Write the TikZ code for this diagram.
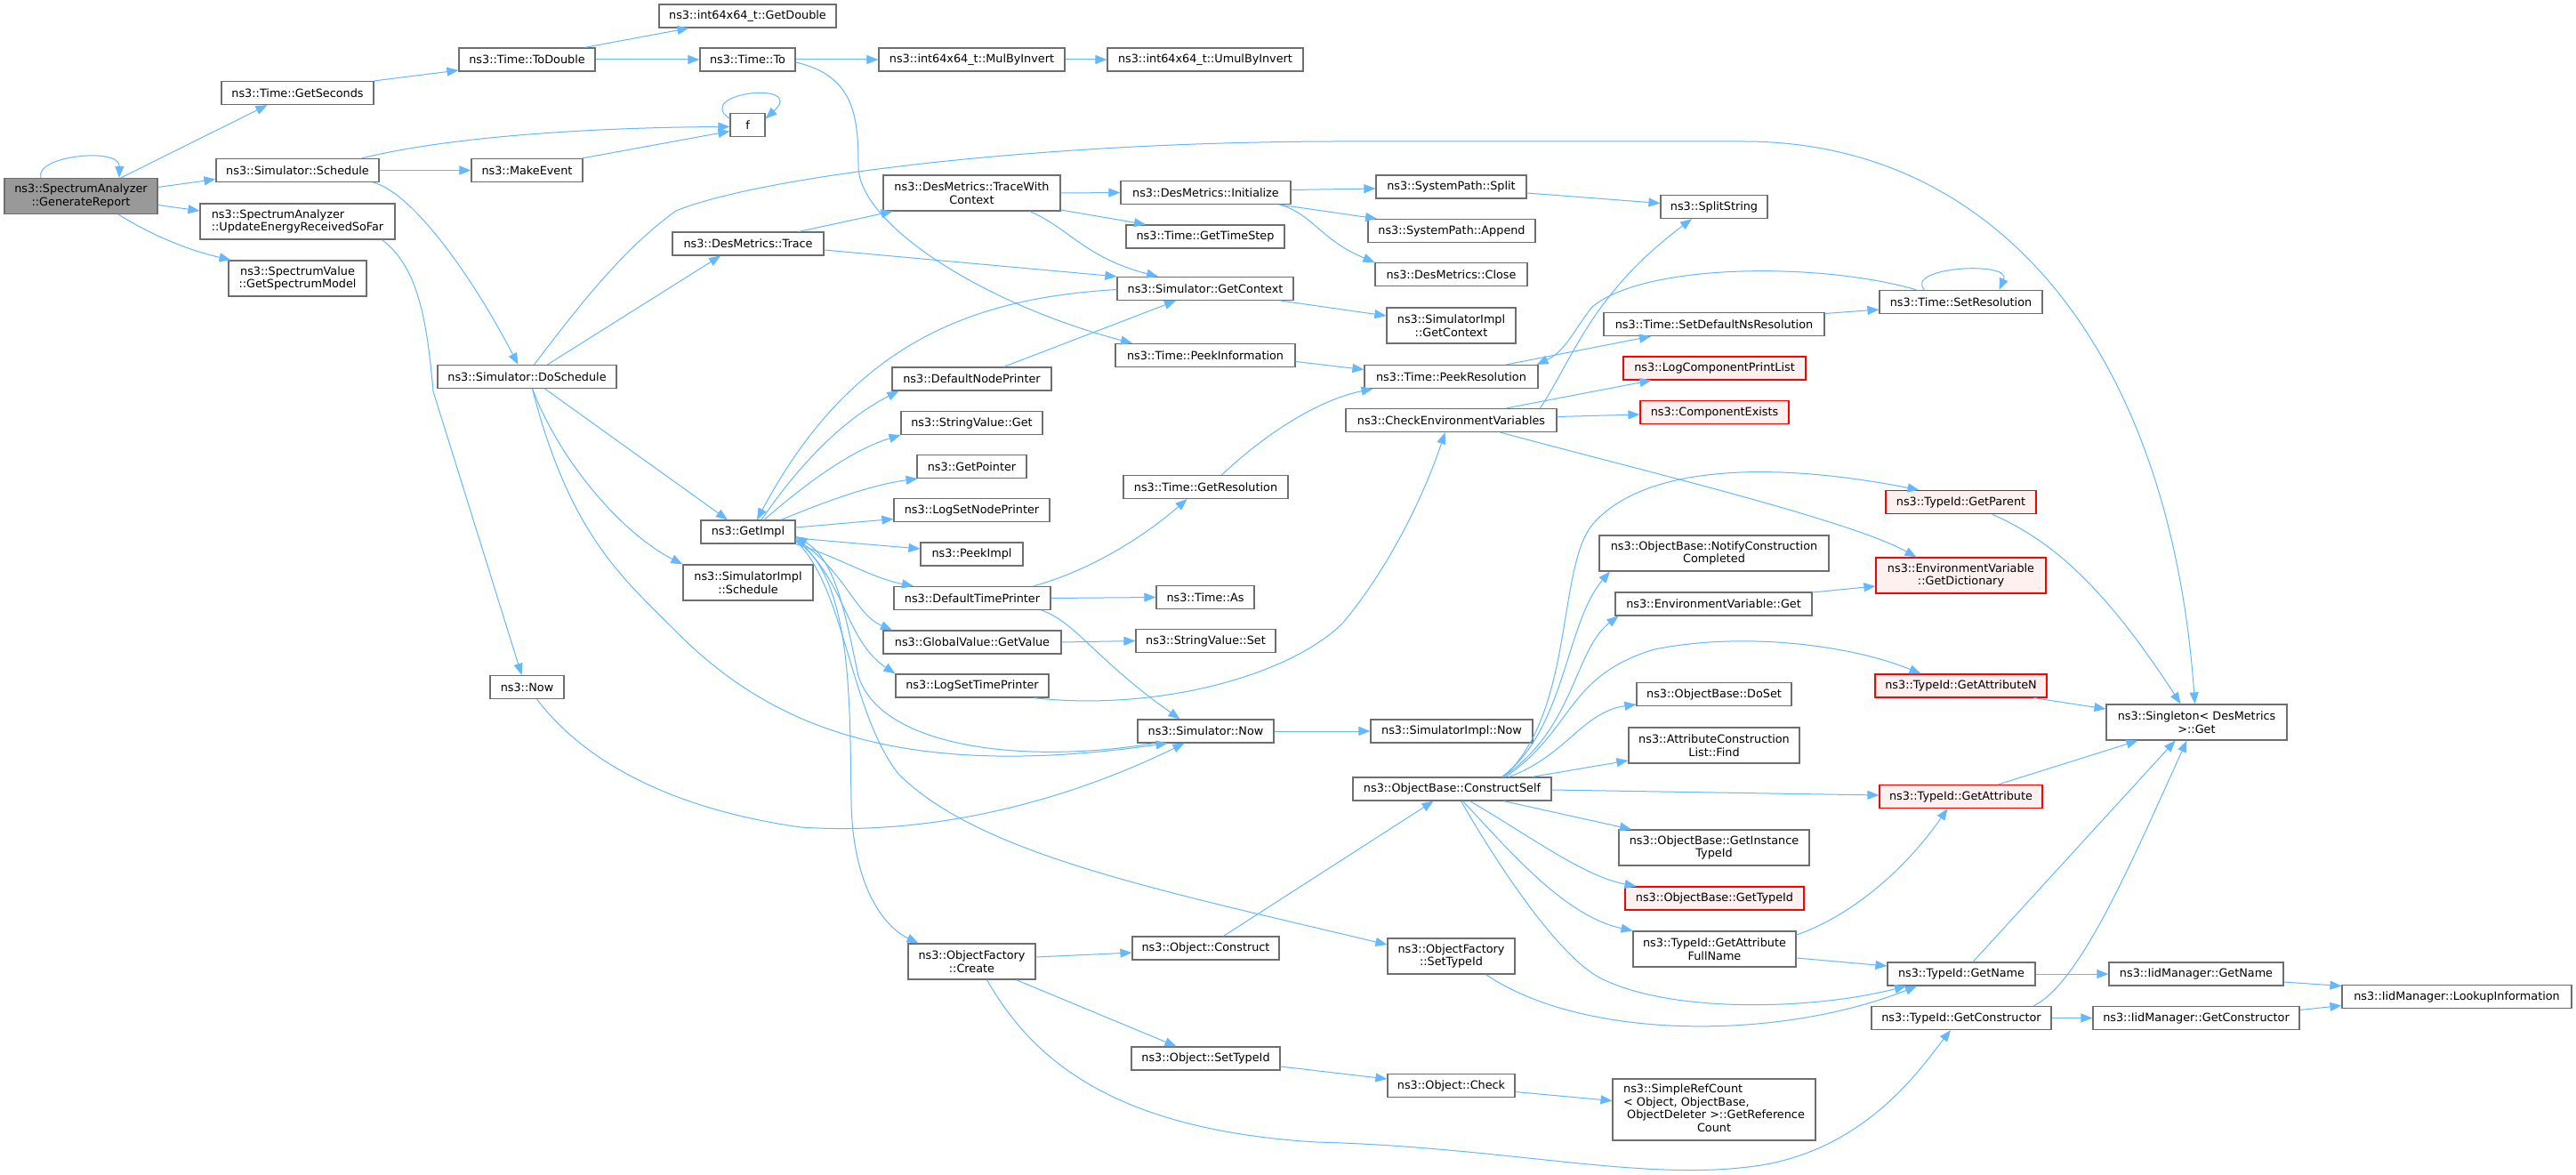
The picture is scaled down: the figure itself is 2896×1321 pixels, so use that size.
\documentclass[tikz,border=0pt]{standalone}
\usepackage{fontspec}
\setmainfont{DejaVu Sans}
\usetikzlibrary{arrows.meta,calc}
\definecolor{edgeblue}{HTML}{63B8FF}
\definecolor{nodegray}{HTML}{6E6E6E}
\definecolor{rootfill}{HTML}{999999}
\definecolor{redfill}{HTML}{FFF0F0}
\definecolor{redline}{HTML}{FF0000}
\newcommand{\nodefont}{\fontsize{12.8}{14.5}\selectfont}
\tikzset{
  box/.style={draw=nodegray, fill=white, line width=1.2pt, inner sep=0pt,
    minimum height=26pt, font=\nodefont, align=center, text=black},
  tall/.style={minimum height=40pt},
  redbox/.style={box, draw=redline, fill=redfill},
  rootbox/.style={box, fill=rootfill},
  edge/.style={draw=edgeblue, line width=1pt, -{Triangle[length=13pt,width=10pt]}},
}
\begin{document}
\begin{tikzpicture}[x=1pt,y=-1pt]
\fill[white] (0,0) rectangle (2896,1321);
\useasboundingbox (0,0) rectangle (2896,1321);

% ---------- nodes ----------
\node[rootbox,tall,minimum width=172pt] (gr) at (91,220.5) {ns3::SpectrumAnalyzer\\::GenerateReport};
\node[box,minimum width=171pt] (gsec) at (334.5,104.5) {ns3::Time::GetSeconds};
\node[box,minimum width=153pt] (todbl) at (592.5,67) {ns3::Time::ToDouble};
\node[box,minimum width=183pt] (sched) at (334.5,191.5) {ns3::Simulator::Schedule};
\node[box,minimum width=125pt] (mkev) at (592.5,191.5) {ns3::MakeEvent};
\node[box,tall,minimum width=219pt,align=left] (upd) at (334.5,249) {ns3::SpectrumAnalyzer\\::UpdateEnergyReceivedSoFar};
\node[box,tall,minimum width=155pt] (gsm) at (334.5,313) {ns3::SpectrumValue\\::GetSpectrumModel};
\node[box,minimum width=201pt] (dosch) at (592.5,423.5) {ns3::Simulator::DoSchedule};
\node[box,minimum width=83pt] (now) at (592.5,772.5) {ns3::Now};
\node[box,minimum width=199pt] (gdbl) at (840.5,18) {ns3::int64x64\_t::GetDouble};
\node[box,minimum width=107pt] (timeto) at (840.5,67) {ns3::Time::To};
\node[box,minimum width=39pt] (f) at (840.5,140.5) {f};
\node[box,minimum width=170pt] (trace) at (841,274) {ns3::DesMetrics::Trace};
\node[box,minimum width=106pt] (getimpl) at (841,598) {ns3::GetImpl};
\node[box,tall,minimum width=146pt] (simsched) at (841,655) {ns3::SimulatorImpl\\::Schedule};
\node[box,minimum width=209pt] (mul) at (1092.5,67) {ns3::int64x64\_t::MulByInvert};
\node[box,tall,minimum width=199pt] (twc) at (1092.5,217) {ns3::DesMetrics::TraceWith\\Context};
\node[box,minimum width=179pt] (dnp) at (1092.5,426) {ns3::DefaultNodePrinter};
\node[box,minimum width=159pt] (svget) at (1092.5,475.5) {ns3::StringValue::Get};
\node[box,minimum width=123pt] (gptr) at (1092.5,524.5) {ns3::GetPointer};
\node[box,minimum width=175pt] (lsnp) at (1092.5,573.5) {ns3::LogSetNodePrinter};
\node[box,minimum width=115pt] (peekimpl) at (1092.5,623) {ns3::PeekImpl};
\node[box,minimum width=176pt] (dtp) at (1093,672.5) {ns3::DefaultTimePrinter};
\node[box,minimum width=200pt] (gvget) at (1093,722) {ns3::GlobalValue::GetValue};
\node[box,minimum width=172pt] (lstp) at (1093,771) {ns3::LogSetTimePrinter};
\node[box,tall,minimum width=143pt] (ofcreate) at (1092.5,1081) {ns3::ObjectFactory\\::Create};
\node[box,minimum width=220pt] (umul) at (1355,67) {ns3::int64x64\_t::UmulByInvert};
\node[box,minimum width=191pt] (init) at (1355.5,216.5) {ns3::DesMetrics::Initialize};
\node[box,minimum width=178pt] (gts) at (1355,266) {ns3::Time::GetTimeStep};
\node[box,minimum width=198pt] (sgc) at (1355,324.5) {ns3::Simulator::GetContext};
\node[box,minimum width=202pt] (pinfo) at (1355,399.5) {ns3::Time::PeekInformation};
\node[box,minimum width=185pt] (gres) at (1355.5,547.5) {ns3::Time::GetResolution};
\node[box,minimum width=110pt] (tas) at (1355,671.5) {ns3::Time::As};
\node[box,minimum width=157pt] (svset) at (1355.5,720.5) {ns3::StringValue::Set};
\node[box,minimum width=153pt] (snow) at (1355.5,822) {ns3::Simulator::Now};
\node[box,minimum width=165pt] (oconstr) at (1355.5,1066) {ns3::Object::Construct};
\node[box,minimum width=167pt] (osettid) at (1355.5,1190) {ns3::Object::SetTypeId};
\node[box,minimum width=169pt] (split) at (1631.5,210) {ns3::SystemPath::Split};
\node[box,minimum width=188pt] (append) at (1632,259.5) {ns3::SystemPath::Append};
\node[box,minimum width=171pt] (close) at (1631.5,308.5) {ns3::DesMetrics::Close};
\node[box,tall,minimum width=145pt] (sigc) at (1631.5,366) {ns3::SimulatorImpl\\::GetContext};
\node[box,minimum width=195pt] (pres) at (1631.5,423.5) {ns3::Time::PeekResolution};
\node[box,minimum width=237pt] (cev) at (1631.5,472.5) {ns3::CheckEnvironmentVariables};
\node[box,minimum width=182pt] (sinow) at (1632,822) {ns3::SimulatorImpl::Now};
\node[box,minimum width=223pt] (cself) at (1632.5,887) {ns3::ObjectBase::ConstructSelf};
\node[box,tall,minimum width=143pt] (ofstid) at (1631.5,1075) {ns3::ObjectFactory\\::SetTypeId};
\node[box,minimum width=143pt] (ocheck) at (1631.5,1220.5) {ns3::Object::Check};
\node[box,minimum width=120pt] (sstr) at (1927,232.5) {ns3::SplitString};
\node[box,minimum width=248pt] (sdnr) at (1927,364.5) {ns3::Time::SetDefaultNsResolution};
\node[redbox,minimum width=205pt] (lcpl) at (1927.5,414) {ns3::LogComponentPrintList};
\node[redbox,minimum width=167pt] (cex) at (1927.5,463.5) {ns3::ComponentExists};
\node[box,tall,minimum width=258pt] (ncc) at (1927,622) {ns3::ObjectBase::NotifyConstruction\\Completed};
\node[box,minimum width=221pt] (evget) at (1926.5,679) {ns3::EnvironmentVariable::Get};
\node[box,minimum width=174pt] (doset) at (1927,780.5) {ns3::ObjectBase::DoSet};
\node[box,tall,minimum width=192pt] (acl) at (1927,838) {ns3::AttributeConstruction\\List::Find};
\node[box,tall,minimum width=214pt] (gitid) at (1927,953) {ns3::ObjectBase::GetInstance\\TypeId};
\node[redbox,minimum width=201pt] (obgtid) at (1927.5,1010) {ns3::ObjectBase::GetTypeId};
\node[box,tall,minimum width=183pt] (gafn) at (1927.5,1067) {ns3::TypeId::GetAttribute\\FullName};
\node[box,minimum width=228pt,minimum height=69pt] (srefc) at (1927,1247.5)
  {\def\arraystretch{1}\begin{tabular}{@{}l@{}}ns3::SimpleRefCount\\{}< Object, ObjectBase,\\\ ObjectDeleter >::GetReference\\\multicolumn{1}{@{}c@{}}{Count}\end{tabular}};
\node[box,minimum width=183pt] (setres) at (2204.5,339.5) {ns3::Time::SetResolution};
\node[redbox,minimum width=169pt] (gpar) at (2204.5,564.5) {ns3::TypeId::GetParent};
\node[redbox,tall,minimum width=191pt] (gdict) at (2204.5,647) {ns3::EnvironmentVariable\\::GetDictionary};
\node[redbox,minimum width=193pt] (gattrn) at (2204.5,771) {ns3::TypeId::GetAttributeN};
\node[redbox,minimum width=183pt] (gattr) at (2204.5,895.5) {ns3::TypeId::GetAttribute};
\node[box,minimum width=166pt] (tgname) at (2205,1095) {ns3::TypeId::GetName};
\node[box,minimum width=202pt] (tgctor) at (2205,1144.5) {ns3::TypeId::GetConstructor};
\node[box,tall,minimum width=203pt] (singleton) at (2469.5,812) {ns3::Singleton< DesMetrics\\{}>::Get};
\node[box,minimum width=196pt] (iidgn) at (2469,1095) {ns3::IidManager::GetName};
\node[box,minimum width=232pt] (iidgc) at (2469,1144.5) {ns3::IidManager::GetConstructor};
\node[box,minimum width=258pt] (lookup) at (2762,1120.5) {ns3::IidManager::LookupInformation};

% ---------- edges ----------
\begin{scope}[every path/.style={edge}]
% GenerateReport
\draw ([xshift=-45pt]gr.north) .. controls (38,175) and (135,165) .. ([xshift=43pt]gr.north);
\draw ([xshift=45pt]gr.north) -- ([xshift=-34pt]gsec.south);
\draw ([yshift=10pt]gr.east) -- ([yshift=-10pt]sched.west);
\draw ([yshift=-10pt]gr.east) -- ([yshift=12pt]upd.west);
\draw ([xshift=42pt]gr.south) .. controls (180,270) and (220,283) .. ([xshift=-75pt]gsm.north);
% time chain
\draw (gsec.north east) -- ([yshift=-12pt]todbl.west);
\draw ([xshift=65pt]todbl.north) -- ([xshift=-66pt]gdbl.south);
\draw (todbl.east) -- (timeto.west);
\draw (timeto.east) -- (mul.west);
\draw (mul.east) -- (umul.west);
\draw ([yshift=-3pt]timeto.east) .. controls (960,85) and (965,130) .. (965,187) .. controls (965,250) and (1100,340) .. ([xshift=-82pt]pinfo.north);
% f
\draw ([yshift=7pt]f.west) .. controls (778,104) and (908,90) .. ([yshift=7pt]f.east);
\draw ([xshift=72pt]sched.north) .. controls (520,150) and (700,143) .. ([yshift=-2pt]f.west);
\draw ([xshift=62pt]mkev.north) -- ([yshift=-7pt]f.west);
\draw (sched.east) -- (mkev.west);
\draw ([xshift=85pt]sched.south) .. controls (460,215) and (525,300) .. ([xshift=-10pt]dosch.north);
\draw ([xshift=95pt]upd.south) .. controls (470,300) and (480,360) .. (487,440) -- ([xshift=-6pt]now.north);
% DoSchedule
\draw ([xshift=8pt]dosch.north) .. controls (650,345) and (700,280) .. (760,237) .. controls (850,200) and (1150,160) .. (1500,159) -- (1960,159) .. controls (2250,159) and (2440,400) .. ([xshift=-2pt]singleton.north);
\draw ([xshift=23pt]dosch.north) -- ([xshift=-31pt]trace.south);
\draw ([xshift=20pt]dosch.south) -- ([xshift=-23pt]getimpl.north);
\draw ([xshift=6pt]dosch.south) .. controls (630,520) and (700,600) .. (simsched.north west);
\draw ([xshift=6pt]dosch.south) .. controls (640,600) and (700,650) .. (760,710) .. controls (860,810) and (1000,880) .. ([xshift=-43pt]snow.south);
% DesMetrics
\draw ([xshift=57pt]trace.north) -- ([xshift=-89pt]twc.south);
\draw ([yshift=-7pt]trace.east) -- (sgc.north west);
\draw (twc.east) -- (init.west);
\draw ([yshift=-19pt]twc.east) -- ([xshift=-67pt]gts.north);
\draw ([xshift=65pt]twc.south) .. controls (1200,255) and (1220,290) .. ([xshift=-53pt]sgc.north);
\draw ([yshift=3pt]init.east) -- ([yshift=-2pt]split.west);
\draw ([xshift=83pt]init.south) -- ([xshift=-84pt]append.north);
\draw ([xshift=83pt]init.south) .. controls (1475,240) and (1485,270) .. (close.north west);
\draw ([yshift=-7pt]split.east) -- ([yshift=4pt]sstr.west);
% GetContext
\draw ([yshift=-1pt]sgc.west) .. controls (1100,335) and (960,380) .. ([xshift=10pt]getimpl.north);
\draw ([xshift=85pt]sgc.south) -- ([yshift=11pt]sigc.west);
\draw ([yshift=-7pt]pinfo.east) -- ([yshift=8pt]pres.west);
\draw ([xshift=36pt]dnp.north) -- ([xshift=-33pt]sgc.south);
% GetImpl
\draw ([xshift=15pt]getimpl.north) .. controls (900,520) and (950,470) .. ([xshift=-82pt]dnp.south);
\draw ([xshift=18pt]getimpl.north) .. controls (910,540) and (960,505) .. ([xshift=-80pt]svget.south);
\draw ([xshift=37pt]getimpl.north) .. controls (930,563) and (980,545) .. ([xshift=-61pt]gptr.south);
\draw ([yshift=5pt]getimpl.east) -- ([yshift=-10pt]lsnp.west);
\draw ([yshift=-7pt]getimpl.east) -- ([yshift=6pt]peekimpl.west);
\draw (getimpl.south east) .. controls (940,625) and (980,650) .. ([xshift=-66pt]dtp.north);
\draw ([yshift=-8pt]getimpl.east) .. controls (950,640) and (960,690) .. ([xshift=-90pt]gvget.north);
\draw ([yshift=-9pt]getimpl.east) .. controls (950,650) and (950,720) .. (lstp.north west);
\draw ([yshift=-9pt]getimpl.east) .. controls (960,650) and (955,800) .. (957,900) .. controls (958,990) and (990,1040) .. ([xshift=-60pt]ofcreate.north);
\draw ([yshift=-10pt]getimpl.east) .. controls (950,660) and (955,800) .. (1010,870) .. controls (1100,960) and (1300,1000) .. ([yshift=13pt]ofstid.west);
% printers
\draw ([xshift=69pt]dtp.north) .. controls (1230,640) and (1290,600) .. ([xshift=-21pt]gres.south);
\draw (dtp.east) -- (tas.west);
\draw ([xshift=78pt]dtp.south) .. controls (1210,700) and (1230,740) .. ([xshift=-29pt]snow.north);
\draw (gvget.east) -- (svset.west);
\draw ([xshift=69pt]lstp.south) .. controls (1300,800) and (1450,760) .. (1510,700) .. controls (1560,640) and (1600,560) .. ([xshift=-7pt]cev.south);
\draw ([xshift=18pt]gres.north) .. controls (1420,490) and (1480,450) .. ([xshift=-88pt]pres.south);
\draw (snow.east) -- (sinow.west);
\draw ([xshift=11pt]now.south) .. controls (660,860) and (760,910) .. (900,930) .. controls (1050,940) and (1200,900) .. ([xshift=-24pt]snow.south);
\draw ([xshift=-58pt]snow.south) .. controls (1150,860) and (990,840) .. (965,760) .. controls (950,690) and (940,630) .. ([yshift=-5pt]getimpl.east);
% resolution
\draw ([xshift=62pt]pres.north) -- ([xshift=-71pt]sdnr.south);
\draw ([yshift=12pt]sdnr.east) -- ([yshift=-8.5pt]setres.west);
\draw ([xshift=-41pt]setres.north) .. controls (2140,300) and (2262,293) .. ([xshift=43pt]setres.north);
\draw ([xshift=-50pt]setres.north) .. controls (2050,295) and (1850,295) .. (1790,345) .. controls (1770,370) and (1760,395) .. ([xshift=96pt]pres.north);
% environment
\draw ([xshift=100pt]cev.north) .. controls (1770,400) and (1790,330) .. ([xshift=-25pt]sstr.south);
\draw ([xshift=62pt]cev.north) -- ([xshift=-71pt]lcpl.south);
\draw ([yshift=4pt]cev.east) -- ([yshift=-2.5pt]cex.west);
\draw ([xshift=55pt]cev.south) .. controls (1850,530) and (2080,585) .. ([xshift=-50pt]gdict.north);
\draw ([yshift=13pt]evget.east) -- ([yshift=-12pt]gdict.west);
% ConstructSelf
\draw ([xshift=56pt]cself.north) .. controls (1760,820) and (1760,700) .. ([xshift=-117pt]ncc.south);
\draw ([xshift=57pt]cself.north) .. controls (1770,820) and (1770,730) .. ([xshift=-107pt]evget.south);
\draw ([xshift=58pt]cself.north) .. controls (1770,800) and (1750,640) .. (1790,590) .. controls (1850,520) and (2000,520) .. ([xshift=-47pt]gpar.north);
\draw ([xshift=60pt]cself.north) .. controls (1770,820) and (1760,760) .. (1860,730) .. controls (1960,710) and (2080,725) .. ([xshift=-45pt]gattrn.north);
\draw ([xshift=64pt]cself.north) .. controls (1760,850) and (1780,800) .. ([yshift=-11.5pt]doset.west);
\draw ([xshift=90pt]cself.north) -- ([yshift=-17pt]acl.west);
\draw ([yshift=-1pt]cself.east) -- ([yshift=1.5pt]gattr.west);
\draw ([xshift=58pt]cself.south) -- ([xshift=-93pt]gitid.north);
\draw ([xshift=20pt]cself.south) .. controls (1720,940) and (1780,985) .. ([xshift=-88pt]obgtid.north);
\draw ([xshift=12pt]cself.south) .. controls (1700,960) and (1760,1030) .. ([xshift=-92pt]gafn.north);
\draw ([xshift=10pt]cself.south) .. controls (1700,1000) and (1760,1080) .. (1800,1100) .. controls (1880,1140) and (2040,1135) .. ([xshift=-62pt]tgname.south);
% Singleton
\draw ([xshift=35pt]gpar.south) .. controls (2300,605) and (2360,650) .. ([xshift=-18pt]singleton.north);
\draw ([xshift=82pt]gattrn.south) -- ([yshift=15pt]singleton.west);
\draw ([xshift=42pt]gattr.north) -- ([xshift=-66pt]singleton.south);
\draw ([xshift=13pt]tgname.north) -- ([xshift=-24pt]singleton.south);
\draw ([xshift=81pt]tgctor.north) .. controls (2340,1105) and (2400,960) .. ([xshift=-11pt]singleton.south);
% TypeId
\draw ([yshift=16pt]gafn.east) .. controls (2080,1030) and (2140,980) .. ([xshift=-15pt]gattr.south);
\draw ([yshift=-10pt]gafn.east) -- ([yshift=9pt]tgname.west);
\draw ([xshift=39pt]ofstid.south) .. controls (1780,1170) and (2000,1170) .. ([xshift=-50pt]tgname.south);
% ObjectFactory
\draw ([yshift=5pt]ofcreate.east) -- ([yshift=-5pt]oconstr.west);
\draw ([xshift=50pt]ofcreate.south) -- ([xshift=-33pt]osettid.north);
\draw ([xshift=17pt]ofcreate.south) .. controls (1160,1190) and (1250,1270) .. (1480,1284) .. controls (1700,1290) and (1850,1330) .. (1980,1310) .. controls (2100,1290) and (2160,1200) .. ([xshift=-12pt]tgctor.south);
\draw ([xshift=20pt]oconstr.north) -- ([xshift=-21pt]cself.south);
\draw ([yshift=-9pt]osettid.east) -- ([yshift=7.5pt]ocheck.west);
\draw ([yshift=-7pt]ocheck.east) -- ([yshift=10pt]srefc.west);
% IidManager
\draw (tgname.east) -- (iidgn.west);
\draw (tgctor.east) -- (iidgc.west);
\draw ([yshift=-9pt]iidgn.east) -- ([yshift=12pt]lookup.west);
\draw ([yshift=9pt]iidgc.east) -- ([yshift=-10pt]lookup.west);
\end{scope}
\end{tikzpicture}
\end{document}
